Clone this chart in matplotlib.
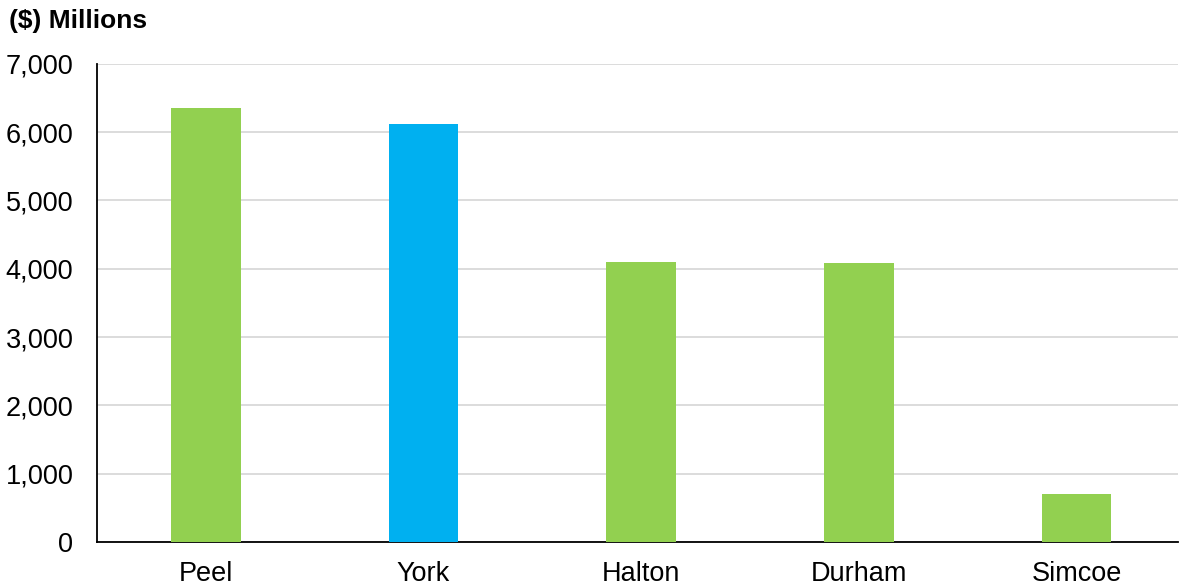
import matplotlib
matplotlib.use("Agg")
import matplotlib.pyplot as plt
from matplotlib.ticker import FuncFormatter

# Values ($ millions)
regions = ["Peel", "York", "Halton", "Durham", "Simcoe"]
values = [6355, 6120, 4100, 4085, 703]
colors = ["#92D050", "#00B0F0", "#92D050", "#92D050", "#92D050"]
yticks = [0, 1000, 2000, 3000, 4000, 5000, 6000, 7000]

plt.rcParams["font.family"] = ["Liberation Sans", "DejaVu Sans"]

fig = plt.figure(figsize=(11.8, 5.86), dpi=100)
ax = fig.add_axes([0.0822, 0.075, 0.916, 0.816])

x = range(len(regions))
ax.bar(x, values, width=0.32, color=colors, zorder=3)

ax.set_xlim(-0.5, len(regions) - 0.535)
ax.set_ylim(0, 7000)
ax.set_yticks(yticks)
ax.yaxis.set_major_formatter(FuncFormatter(lambda v, p: f"{int(v):,}"))
ax.set_xticks(list(x))
ax.set_xticklabels(regions)
ax.tick_params(axis="both", length=0, labelsize=19.5, colors="black")
ax.tick_params(axis="x", pad=14)
ax.tick_params(axis="y", pad=17)

ax.grid(axis="y", color="#D9D9D9", linewidth=1.3, zorder=0)
for side in ["top", "right"]:
    ax.spines[side].set_visible(False)
ax.spines["left"].set_linewidth(1.3)
ax.spines["bottom"].set_linewidth(1.3)

fig.text(0.008, 0.965, "($) Millions", fontsize=19, fontweight="bold", va="center", ha="left")

fig.savefig("out.png", dpi=100)
